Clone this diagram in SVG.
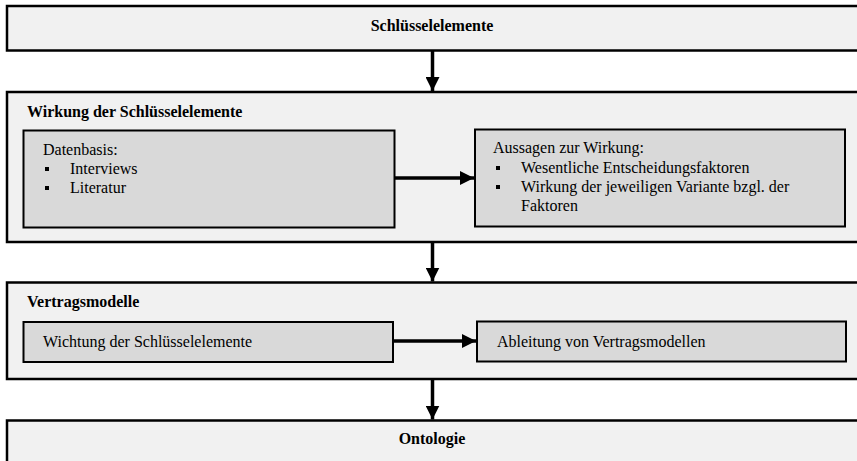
<svg xmlns="http://www.w3.org/2000/svg" width="857" height="461" viewBox="0 0 857 461">
  <defs>
    <marker id="arrow" viewBox="0 0 10 10" refX="10" refY="5" markerWidth="4" markerHeight="4" markerUnits="strokeWidth" orient="auto">
      <path d="M0,0 L10,5 L0,10 Z" fill="#000"/>
    </marker>
  </defs>
  <style>
    .outer { fill: #f1f1f1; stroke: #000; stroke-width: 2.5; }
    .inner { fill: #d9d9d9; stroke: #000; stroke-width: 2; }
    text { font-family: 'Liberation Serif', 'Times New Roman', 'DejaVu Serif', serif; font-size: 16px; fill: #000; }
    .title { font-weight: bold; }
    .bullet { fill: #000; }
    .conn { stroke: #000; stroke-width: 3.5; fill: none; marker-end: url(#arrow); }
  </style>
  <rect width="857" height="461" fill="#ffffff"/>

  <!-- Stage 1 -->
  <g id="schluesselelemente">
    <rect class="outer" x="7" y="6" width="870" height="44.5"/>
    <text class="title" x="432" y="31" text-anchor="middle">Schlüsselelemente</text>
  </g>

  <!-- Stage 2 -->
  <g id="wirkung">
    <rect class="outer" x="7" y="92" width="870" height="150"/>
    <text class="title" x="27" y="117">Wirkung der Schlüsselelemente</text>
  </g>
  <g id="datenbasis">
    <rect class="inner" x="23.5" y="130.5" width="371" height="97"/>
    <text x="43" y="155">Datenbasis:</text>
    <rect class="bullet" x="45" y="167" width="4" height="4"/>
    <text x="70" y="174">Interviews</text>
    <rect class="bullet" x="45" y="186" width="4" height="4"/>
    <text x="70" y="193">Literatur</text>
  </g>
  <g id="aussagen">
    <rect class="inner" x="475" y="129.5" width="370" height="97"/>
    <text x="493" y="153">Aussagen zur Wirkung:</text>
    <rect class="bullet" x="496" y="166" width="4" height="4"/>
    <text x="521" y="173">Wesentliche Entscheidungsfaktoren</text>
    <rect class="bullet" x="496" y="185" width="4" height="4"/>
    <text x="521" y="192">Wirkung der jeweiligen Variante bzgl. der</text>
    <text x="521" y="211">Faktoren</text>
  </g>

  <!-- Stage 3 -->
  <g id="vertragsmodelle">
    <rect class="outer" x="7" y="282.5" width="870" height="96.5"/>
    <text class="title" x="27" y="307">Vertragsmodelle</text>
  </g>
  <g id="wichtung">
    <rect class="inner" x="23.5" y="322" width="369.5" height="40"/>
    <text x="43" y="347">Wichtung der Schlüsselelemente</text>
  </g>
  <g id="ableitung">
    <rect class="inner" x="477" y="321.5" width="369" height="40"/>
    <text x="497" y="347">Ableitung von Vertragsmodellen</text>
  </g>

  <!-- Stage 4 -->
  <g id="ontologie">
    <rect class="outer" x="7" y="420.5" width="870" height="60"/>
    <text class="title" x="432" y="444" text-anchor="middle">Ontologie</text>
  </g>

  <!-- Connectors -->
  <g id="connectors">
    <line class="conn" x1="432.5" y1="51" x2="432.5" y2="91"/>
    <line class="conn" x1="432.5" y1="243" x2="432.5" y2="281.5"/>
    <line class="conn" x1="432.5" y1="380" x2="432.5" y2="419.5"/>
    <line class="conn" x1="395" y1="178" x2="474" y2="178"/>
    <line class="conn" x1="394" y1="341" x2="476" y2="341"/>
  </g>
</svg>
